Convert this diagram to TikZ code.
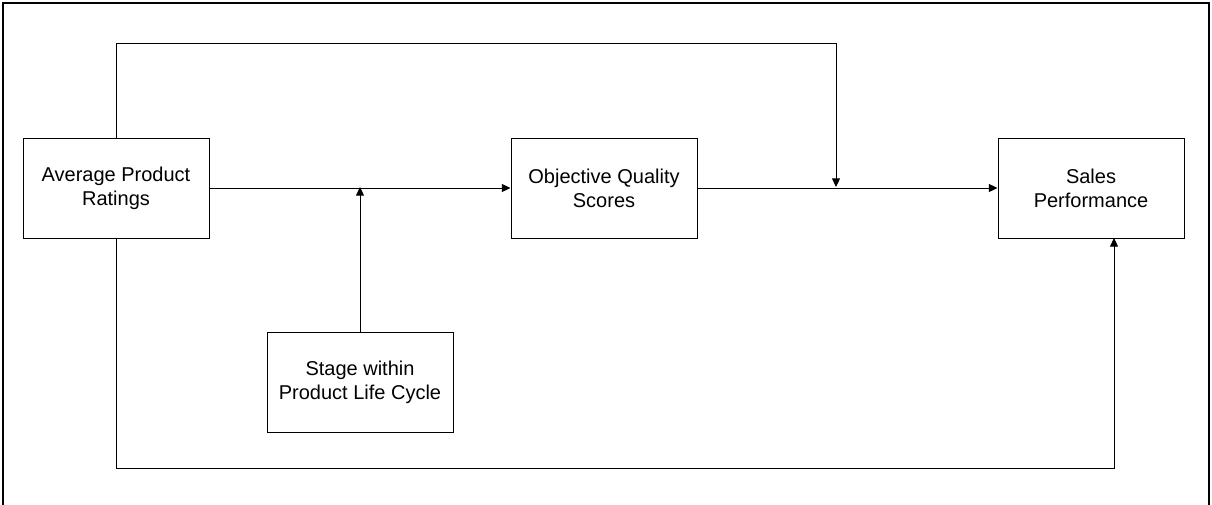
\documentclass[tikz,border=0pt]{standalone}
\usepackage{fontspec}
\setmainfont{Liberation Sans}
\usetikzlibrary{arrows.meta}
\usetikzlibrary{positioning}
\tikzset{block/.style = {draw, line width=0.75pt, minimum width=139.5pt, minimum height=75pt,
                         align=center, inner sep=0pt, font=\fontsize{15}{18}\selectfont},
         arr/.style = {line width=0.75pt, -{Triangle[length=6.5pt, width=6pt]}}}

\begin{document}
\begin{tikzpicture}[x=0.75pt, y=-0.75pt]
      \useasboundingbox (0, 0) rectangle (1212, 504);
      \draw [line width=1.8pt] (3, 3) rectangle (1209, 508);

      \node [block] (ratings) at (116, 188) {Average Product\\Ratings};
      \node [block] (quality) at (604, 188) {Objective Quality\\Scores};
      \node [block] (sales) at (1091, 188) {Sales\\Performance};
      \node [block] (stage) at (360, 382) {Stage within\\Product Life Cycle};

      \coordinate (modq) at (360, 187);
      \coordinate (mods) at (836, 187);
      \coordinate (salesin) at (1114, 238);

      \draw [arr] (ratings) -- (quality);
      \draw [arr] (quality) -- (sales);
      \draw [arr] (stage) -- (modq);
      \draw [arr] (ratings.north) -- ++(0, -94) -| (mods);
      \draw [arr] (ratings.south) -- ++(0, 230) -| (salesin);
    \end{tikzpicture}
\end{document}
